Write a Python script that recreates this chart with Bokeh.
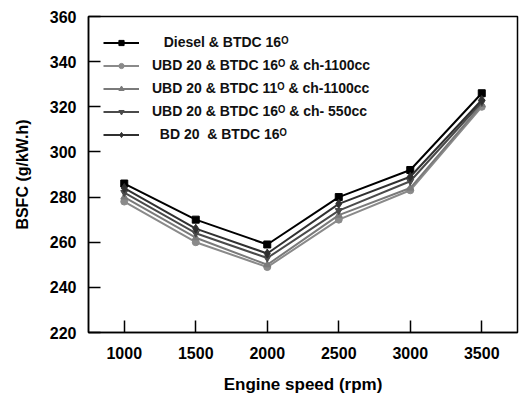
from bokeh.plotting import figure
from bokeh.models import FixedTicker, Legend, LegendItem, Range1d
from bokeh.embed import file_html
from bokeh.resources import INLINE

speed = [1000, 1500, 2000, 2500, 3000, 3500]
diesel = [286, 270, 259, 280, 292, 326]
ubd16_1100 = [278, 260, 249, 270, 283, 320]
ubd11_1100 = [280, 262, 250, 272, 284, 321]
ubd16_550 = [282, 264, 253, 274, 287, 322]
bd20 = [284, 266, 255, 277, 289, 323]

NB = "\u00a0"
labels = [
    NB * 3 + "Diesel & BTDC 16\u1d3c",
    "UBD 20 & BTDC 16\u1d3c & ch-1100cc",
    "UBD 20 & BTDC 11\u1d3c & ch-1100cc",
    "UBD 20 & BTDC 16\u1d3c & ch- 550cc",
    NB * 2 + "BD 20  & BTDC 16\u1d3c",
]
y_ticks = [220, 240, 260, 280, 300, 320, 340, 360]
x_ticks = [1000, 1500, 2000, 2500, 3000, 3500]

FONT = "Liberation Sans"

p = figure(width=519, height=396, output_backend="svg", toolbar_location=None,
           x_range=Range1d(750, 3750), y_range=Range1d(220, 360),
           min_border_left=88, min_border_right=2, min_border_top=16, min_border_bottom=64)
p.background_fill_color = "white"
p.border_fill_color = "white"
p.grid.visible = False
p.outline_line_color = "black"
p.outline_line_width = 1.5

series = [
    (diesel, "black", "square", 7),
    (ubd16_1100, "#8a8a8a", "circle", 7),
    (ubd11_1100, "#7a7a7a", "triangle", 7),
    (ubd16_550, "#4a4a4a", "inverted_triangle", 7),
    (bd20, "#303030", "diamond", 9),
]
items = []
for (vals, col, mk, sz), lab in zip(series, labels):
    l = p.line(speed, vals, line_color=col, line_width=2)
    s = p.scatter(speed, vals, marker=mk, size=sz, fill_color=col, line_color=col)
    items.append(LegendItem(label=lab, renderers=[l, s]))

leg = Legend(items=items, location="top_left", margin=15, padding=7,
             glyph_width=36, glyph_height=13, label_height=22, spacing=1,
             label_standoff=13, border_line_color=None, background_fill_alpha=0,
             label_text_font=FONT, label_text_font_style="bold",
             label_text_font_size="14px", label_text_color="#111111")
p.add_layout(leg)

for ax in (p.xaxis[0], p.yaxis[0]):
    ax.major_tick_in = 12
    ax.major_tick_out = 0
    ax.minor_tick_in = 0
    ax.minor_tick_out = 0
    ax.axis_line_width = 1.5
    ax.major_tick_line_width = 1.5
    ax.major_label_text_font = FONT
    ax.major_label_text_font_style = "bold"
    ax.major_label_text_font_size = "16px"
    ax.major_label_text_color = "black"
    ax.axis_label_text_font = FONT
    ax.axis_label_text_font_style = "bold"
    ax.axis_label_text_color = "black"

p.xaxis.ticker = FixedTicker(ticks=x_ticks)
p.yaxis.ticker = FixedTicker(ticks=y_ticks)
p.xaxis.axis_label = "Engine speed (rpm)"
p.yaxis.axis_label = "BSFC (g/kW.h)"
p.xaxis.axis_label_text_font_size = "17px"
p.yaxis.axis_label_text_font_size = "16px"
p.xaxis.major_label_standoff = 14
p.yaxis.major_label_standoff = 12
p.xaxis.axis_label_standoff = 13
p.yaxis.axis_label_standoff = 16

open("out.html", "w").write(file_html(p, INLINE))
